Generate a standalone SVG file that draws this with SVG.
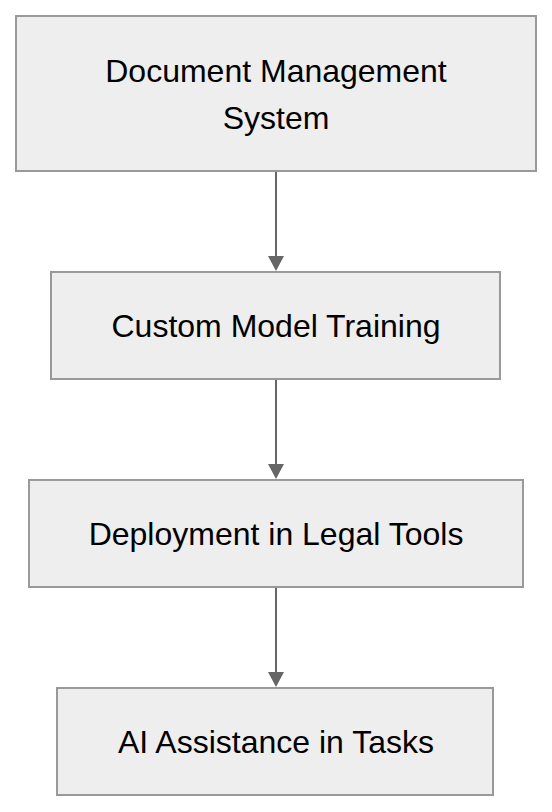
<svg xmlns="http://www.w3.org/2000/svg" width="552" height="812" viewBox="0 0 552 812">
<style>
.box{fill:#eeeeee;stroke:#999999;stroke-width:2}
.lbl{font-family:"Liberation Sans",Arial,sans-serif;font-size:32px;fill:#000;text-anchor:middle;dominant-baseline:central}
.edge{stroke:#666666;stroke-width:2;fill:none}
.head{fill:#666666}
</style>
<rect width="552" height="812" fill="#ffffff"/>
<g id="n1"><rect class="box" x="16" y="16" width="520" height="155"/><text class="lbl" x="276" y="71">Document Management</text><text class="lbl" x="276" y="118">System</text></g>
<g id="n2"><rect class="box" x="51" y="272" width="449" height="107"/><text class="lbl" x="276" y="325.5">Custom Model Training</text></g>
<g id="n3"><rect class="box" x="29" y="480" width="494" height="107"/><text class="lbl" x="276" y="533.5">Deployment in Legal Tools</text></g>
<g id="n4"><rect class="box" x="57" y="688" width="436" height="107"/><text class="lbl" x="276" y="741.5">AI Assistance in Tasks</text></g>
<g id="edges">
<line class="edge" x1="276" y1="172" x2="276" y2="258"/><polygon class="head" points="268,256 284,256 276,271"/>
<line class="edge" x1="276" y1="380" x2="276" y2="466"/><polygon class="head" points="268,464 284,464 276,479"/>
<line class="edge" x1="276" y1="588" x2="276" y2="674"/><polygon class="head" points="268,672 284,672 276,687"/>
</g>
</svg>
